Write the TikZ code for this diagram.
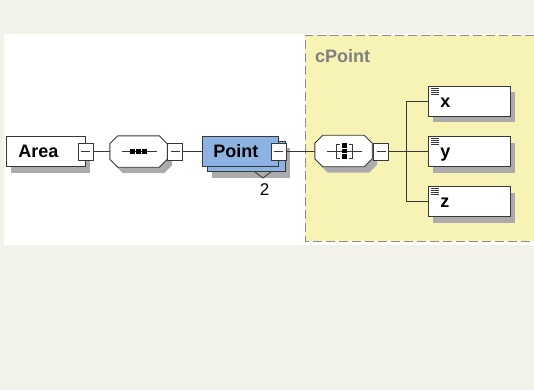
\documentclass[tikz,border=0pt]{standalone}
\usepackage{fontspec}
\setmainfont{Liberation Sans}
\usetikzlibrary{calc,shadows}
\definecolor{bg}{HTML}{F2F1EA}
\definecolor{ylw}{HTML}{F7F3B4}
\definecolor{blu}{HTML}{8DB3E2}
\definecolor{shd}{HTML}{ABABAB}
\definecolor{dsh}{HTML}{8C8C8C}
\definecolor{edge}{HTML}{383838}
\definecolor{ctext}{HTML}{7F7F7F}
\newcommand{\octapath}[1]{%
  ($(#1.north west)+(8,0)$) -- ($(#1.north east)+(-8,0)$) -- ($(#1.north east)+(0,8)$) --
  ($(#1.south east)+(0,-8)$) -- ($(#1.south east)+(-8,0)$) -- ($(#1.south west)+(8,0)$) --
  ($(#1.south west)+(0,-8)$) -- ($(#1.north west)+(0,8)$) -- cycle}
\begin{document}
\begin{tikzpicture}[x=1pt,y=-1pt,
  sh/.style={drop shadow={shadow xshift=5pt,shadow yshift=-6pt,fill=shd,opacity=1}},
  elbox/.style={draw=edge,line width=0.9pt,fill=white,rectangle,inner ysep=0pt,inner xsep=12pt,
    minimum height=30pt,font=\fontsize{18}{20}\selectfont\bfseries,text height=13pt,text depth=1pt,
    align=left,anchor=west},
  octbox/.style={rectangle,minimum width=57pt,minimum height=31pt,inner sep=0pt},
  octa/.style={draw=edge,line width=0.9pt,fill=white},
  expander/.style={draw=edge,line width=0.9pt,fill=white,rectangle,inner sep=0pt,
    minimum width=15pt,minimum height=17pt,
    path picture={\draw[edge,line width=0.9pt] ([xshift=3pt]path picture bounding box.west) -- ([xshift=-3pt]path picture bounding box.east);}},
  conn/.style={draw=edge,line width=0.9pt},
  icon/.style={draw=edge,line width=0.8pt}
]
\useasboundingbox (0,0) rectangle (534,390);
\fill[bg] (0,0) rectangle (534,390);
% panels
\fill[white] (4,34) rectangle (534,245);
\fill[ylw] (305,35.5) rectangle (534,241);
\draw[dsh,line width=1pt,dash pattern=on 9pt off 4pt] (534,35.5) -- (305,35.5) -- (305,241) -- (534,241);
\node[font=\fontsize{18}{20}\selectfont\bfseries,text=ctext,anchor=base west,inner sep=0pt] (ctitle) at (315,63) {cPoint};

% Area
\node[elbox,sh,text width=55pt] (area) at (6,151.5) {Area};
\node[expander] (areaexp) at (area.east) {};

% sequence
\node[octbox] (seq) at (138.5,151.5) {};
\draw[octa,sh] \octapath{seq};
\draw[icon] ($(seq.center)+(-17,0)$) -- ($(seq.center)+(18,0)$);
\foreach \d in {-6,0,6} \fill[black] ($(seq.center)+(\d-2.3,-2.3)$) rectangle ++(4.6,4.6);
\node[expander,anchor=west] (seqexp) at (seq.east) {};

% Point (stacked)
\node[elbox,sh,fill=blu,text width=54pt,inner xsep=12pt] (pointb) at (207,156.5) {\phantom{Point}};
\node[elbox,fill=blu,text width=54pt,inner xsep=11pt] (point) at (202,151.5) {Point};
\node[expander] (pointexp) at (point.east) {};
\draw[icon] ($(pointb.south east)+(-31,0)$) -- ++(8,6) -- ++(8,-6);
\node[font=\fontsize{17}{19}\selectfont,inner sep=0pt,anchor=base] (mult) at (264.5,195) {2};

% choice
\node[octbox] (ch) at (343.5,151) {};
\draw[octa,sh] \octapath{ch};
\draw[icon] ($(ch.center)+(-17,0)$) -- ($(ch.center)+(18,0)$);
\draw[icon] ($(ch.center)+(-3.5,-7)$) -- ++(-3.5,0) -- ++(0,14) -- ++(3.5,0);
\draw[icon] ($(ch.center)+(5.5,-7)$) -- ++(3.5,0) -- ++(0,14) -- ++(-3.5,0);
\foreach \d in {-5.5,0,5.5} \fill[black] ($(ch.center)+(-1.3,\d-2.2)$) rectangle ++(4.4,4.4);
\node[expander,anchor=west] (chexp) at ($(ch.east)+(1,0.5)$) {};

% elements
\node[elbox,sh,text width=58pt,inner xsep=12pt] (ex) at (428,101.5) {x};
\node[elbox,sh,text width=58pt,inner xsep=12pt] (ey) at (428,151.5) {y};
\node[elbox,sh,text width=58pt,inner xsep=12pt] (ez) at (428,201.5) {z};
\foreach \n in {ex,ey,ez}{
  \foreach \i in {0,1,2,3}
    \draw[edge,line width=0.7pt] ($(\n.north west)+(2.5,2.5+2*\i)$) -- ++(8,0);
}

% connectors
\coordinate (j) at (406,151.5);
\draw[conn] (areaexp.east) -- (seq.west);
\draw[conn] (seqexp.east) -- (point.west);
\draw[conn] (pointexp.east) -- (ch.west |- pointexp.east);
\draw[conn] (chexp.east) -- (j);
\draw[conn] (ex.west) -- (ex.west -| j) -- (ez.west -| j) -- (ez.west);
\draw[conn] (j) -- (ey.west);
\end{tikzpicture}
\end{document}
